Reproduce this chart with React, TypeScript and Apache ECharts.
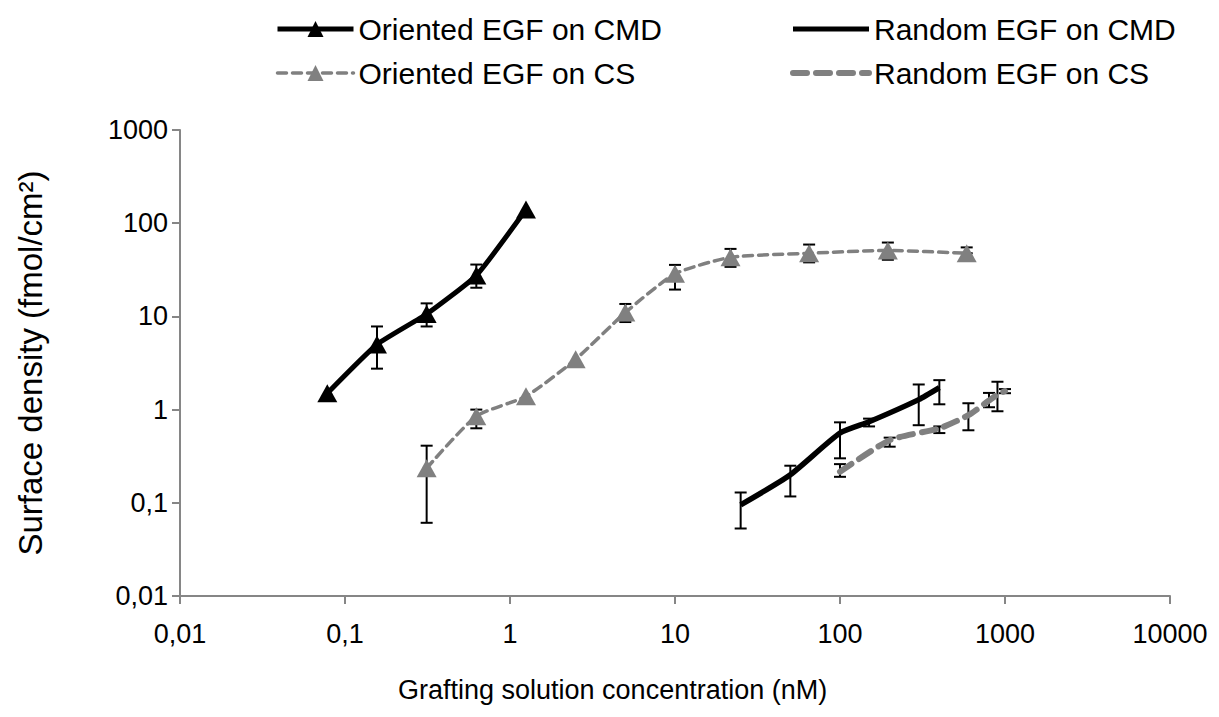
import React, { useEffect, useRef } from "react";
import * as echarts from "echarts";

// ---- data ----
const orientedCmdX = [0.078125, 0.15625, 0.3125, 0.625, 1.25];
const orientedCmdY = [1.5, 5.0, 10.6, 27.5, 140];
const orientedCmdLow = [1.5, 2.75, 7.8, 20.3, 140];
const orientedCmdHigh = [1.5, 7.8, 13.8, 36, 140];

const orientedCsX = [0.3125, 0.625, 1.25, 2.5, 5, 10, 21.7, 65, 195, 586];
const orientedCsY = [0.235, 0.85, 1.39, 3.47, 11, 28.6, 43, 47.6, 51, 47.6];
const orientedCsLow = [0.061, 0.63, 1.39, 3.47, 8.7, 19.4, 34, 38, 40.5, 47.6];
const orientedCsHigh = [0.41, 1.0, 1.39, 3.47, 13.6, 35.7, 53, 59, 62, 55];

const randomCmdX = [25, 50, 100, 150, 300, 400];
const randomCmdY = [0.095, 0.2, 0.56, 0.74, 1.28, 1.72];
const randomCmdLow = [0.053, 0.117, 0.3, 0.66, 0.68, 1.14];
const randomCmdHigh = [0.129, 0.25, 0.73, 0.8, 1.86, 2.07];

const randomCsX = [100, 200, 400, 600, 800, 900, 1000];
const randomCsY = [0.215, 0.47, 0.63, 0.87, 1.25, 1.45, 1.58];
const randomCsLow = [0.19, 0.4, 0.56, 0.6, 1.06, 0.96, 1.5];
const randomCsHigh = [0.26, 0.5, 0.66, 1.17, 1.51, 1.99, 1.66];

const xTickLabels = ["0,01", "0,1", "1", "10", "100", "1000", "10000"];
const yTickLabels = ["0,01", "0,1", "1", "10", "100", "1000"];

const seriesNames = [
  "Oriented EGF on CMD",
  "Oriented EGF on CS",
  "Random EGF on CMD",
  "Random EGF on CS",
];
const xTitle = "Grafting solution concentration (nM)";
const yTitle = "Surface density (fmol/cm²)";

const FONT = "'Liberation Sans', Arial, sans-serif";
const GRAY = "#808080";
const AXIS = "#868686";

function pairs(xs: number[], ys: number[]) {
  return xs.map((x, i) => [x, ys[i]]);
}
function errTriples(xs: number[], lo: number[], hi: number[]) {
  return xs.map((x, i) => [x, lo[i], hi[i]]);
}

function errorSeries(data: number[][]) {
  return {
    type: "custom",
    silent: true,
    z: 1,
    data,
    renderItem: (params: any, api: any) => {
      const x = api.value(0);
      const lo = api.value(1);
      const hi = api.value(2);
      if (lo === hi) return null;
      const p1 = api.coord([x, lo]);
      const p2 = api.coord([x, hi]);
      const w = 6;
      const style = { stroke: "#000", lineWidth: 2 };
      return {
        type: "group",
        children: [
          { type: "line", shape: { x1: p1[0], y1: p1[1], x2: p2[0], y2: p2[1] }, style },
          { type: "line", shape: { x1: p1[0] - w, y1: p1[1], x2: p1[0] + w, y2: p1[1] }, style },
          { type: "line", shape: { x1: p2[0] - w, y1: p2[1], x2: p2[0] + w, y2: p2[1] }, style },
        ],
      };
    },
  };
}

export default function App() {
  const ref = useRef<HTMLDivElement>(null);
  useEffect(() => {
    if (!ref.current) return;
    const chart = echarts.init(ref.current, undefined, { renderer: "svg" });
    const labelFmt = (labels: string[], offset: number) => (v: number) => {
      const k = Math.round(Math.log10(v)) + offset;
      return labels[k] ?? "";
    };
    const legendText = { fontFamily: FONT, fontSize: 30, color: "#000" };
    const legendCommon = {
      orient: "vertical",
      top: 9,
      itemWidth: 76,
      itemHeight: 20,
      itemGap: 14,
      textStyle: legendText,
    };
    chart.setOption({
      animation: false,
      backgroundColor: "#fff",
      textStyle: { fontFamily: FONT },
      grid: { left: 180, top: 130, width: 990, height: 466, containLabel: false },
      legend: [
        {
          ...legendCommon,
          left: 270,
          data: [
            { name: seriesNames[0], lineStyle: { width: 5, color: "#000" } },
            { name: seriesNames[1], lineStyle: { width: 3.5, color: GRAY, type: [9, 6] } },
          ],
        },
        {
          ...legendCommon,
          left: 785,
          data: [
            {
              name: seriesNames[2],
              lineStyle: { width: 5, color: "#000" },
              itemStyle: { opacity: 0 },
            },
            {
              name: seriesNames[3],
              lineStyle: { width: 6, color: GRAY, type: [14, 9] },
              itemStyle: { opacity: 0 },
            },
          ],
        },
      ],
      graphic: [
        {
          type: "text",
          left: 609 - 211,
          top: 676,
          style: { text: xTitle, font: `27px ${FONT}`, fill: "#000" },
        },
      ],
      xAxis: {
        type: "log",
        logBase: 10,
        min: 0.01,
        max: 10000,
        axisLine: { lineStyle: { color: AXIS, width: 2 } },
        axisTick: { show: true, length: 8, lineStyle: { color: AXIS, width: 2 } },
        minorTick: { show: false },
        splitLine: { show: false },
        axisLabel: {
          fontFamily: FONT,
          fontSize: 27,
          color: "#000",
          margin: 24,
          formatter: labelFmt(xTickLabels, 2),
        },
      },
      yAxis: {
        type: "log",
        logBase: 10,
        min: 0.01,
        max: 1000,
        name: yTitle,
        nameLocation: "middle",
        nameGap: 133,
        nameTextStyle: { fontFamily: FONT, fontSize: 33, color: "#000" },
        axisLine: { lineStyle: { color: AXIS, width: 2 } },
        axisTick: { show: true, length: 8, lineStyle: { color: AXIS, width: 2 } },
        splitLine: { show: false },
        axisLabel: {
          fontFamily: FONT,
          fontSize: 27,
          color: "#000",
          margin: 12,
          formatter: labelFmt(yTickLabels, 2),
        },
      },
      series: [
        errorSeries(errTriples(orientedCmdX, orientedCmdLow, orientedCmdHigh)),
        errorSeries(errTriples(orientedCsX, orientedCsLow, orientedCsHigh)),
        errorSeries(errTriples(randomCmdX, randomCmdLow, randomCmdHigh)),
        errorSeries(errTriples(randomCsX, randomCsLow, randomCsHigh)),
        {
          name: seriesNames[0],
          type: "line",
          z: 3,
          data: pairs(orientedCmdX, orientedCmdY),
          smooth: 0.15,
          symbol: "triangle",
          symbolSize: [20, 18],
          itemStyle: { color: "#000" },
          lineStyle: { color: "#000", width: 5 },
        },
        {
          name: seriesNames[1],
          type: "line",
          z: 3,
          data: pairs(orientedCsX, orientedCsY),
          smooth: 0.2,
          symbol: "triangle",
          symbolSize: [20, 18],
          itemStyle: { color: GRAY },
          lineStyle: { color: GRAY, width: 3.5, type: [9, 6], cap: "round" },
        },
        {
          name: seriesNames[2],
          type: "line",
          z: 3,
          data: pairs(randomCmdX, randomCmdY),
          smooth: 0.2,
          symbol: "none",
          itemStyle: { color: "#000" },
          lineStyle: { color: "#000", width: 5.5 },
        },
        {
          name: seriesNames[3],
          type: "line",
          z: 3,
          data: pairs(randomCsX, randomCsY),
          smooth: 0.2,
          symbol: "none",
          itemStyle: { color: GRAY },
          lineStyle: { color: GRAY, width: 6, type: [14, 9], cap: "round" },
        },
      ],
    });
    return () => chart.dispose();
  }, []);
  return (
    <div
      ref={ref}
      style={{ position: "fixed", left: 0, top: 0, width: 1219, height: 717, background: "#fff" }}
    />
  );
}
